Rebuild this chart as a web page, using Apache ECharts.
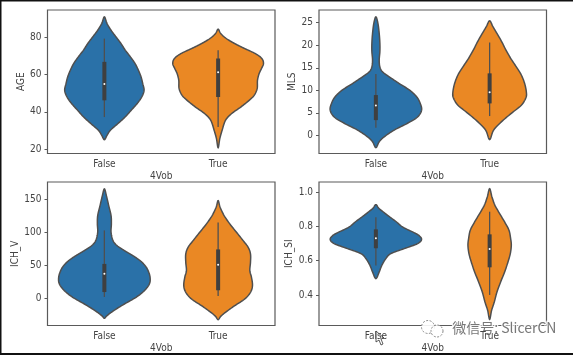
<!DOCTYPE html>
<html>
<head>
<meta charset="utf-8">
<style>
html, body { margin: 0; padding: 0; background: #fff; }
#main { width: 573px; height: 355px; filter: blur(0.5px); }
</style>
<script src="https://cdn.jsdelivr.net/npm/echarts@6/dist/echarts.min.js"></script>
</head>
<body>
<div id="main"></div>
<script>
var categories = ['False', 'True'];

// outline of each violin: value on the y axis, relative density at that value
var ageFalseValues = [91.1, 87.5, 83.9, 80.3, 76.7, 73.1, 69.6, 66, 62.4, 58.8, 55.2, 51.6, 48, 44.4, 40.8, 37.2, 33.6, 30.1, 27.4, 25];
var ageFalseDensity = [0, 8, 20, 35, 50, 63, 78, 92, 102, 110, 115, 119, 112, 98, 80, 62, 40, 18, 8, 0];
var ageTrueValues = [84.5, 82.1, 79.4, 76.7, 74, 71.3, 68.7, 66, 63.3, 60.6, 57, 52.5, 48.9, 46.2, 42.6, 39, 35.4, 30.1, 25.6, 20.7];
var ageTrueDensity = [0, 8, 25, 50, 80, 112, 131, 136, 130, 123, 118, 117, 108, 93, 68, 40, 22, 12, 5, 0];

var mlsFalseValues = [26.3, 24.9, 22.6, 20.4, 18.6, 16.7, 15.2, 14.1, 13, 11.5, 10.1, 8.6, 7.1, 5.6, 4.1, 2.7, 1.2, -0.3, -1.4, -2.7];
var mlsFalseDensity = [0, 6, 10, 12, 12, 10, 12, 20, 40, 70, 100, 122, 133, 137, 125, 95, 55, 25, 10, 0];
var mlsTrueValues = [25.4, 24.1, 22.6, 20.8, 18.9, 17.1, 15.2, 13.4, 11.5, 9.7, 8.4, 6.7, 4.9, 3, 1.2, -0.9];
var mlsTrueDensity = [0, 10, 22, 36, 49, 63, 80, 95, 105, 110, 109, 95, 65, 35, 12, 0];

var ichVFalseValues = [166.2, 156.1, 140.8, 125.6, 112.9, 100.2, 87.4, 79.8, 72.2, 64.6, 56.9, 49.3, 41.7, 31.5, 21.4, 11.2, 1, -9.2, -19.3, -26.9, -31];
var ichVFalseDensity = [0, 6, 13, 20, 21, 20, 26, 38, 60, 85, 107, 122, 131, 137, 135, 120, 95, 60, 28, 8, 0];
var ichVTrueValues = [148.4, 138.3, 125.6, 112.9, 100.2, 87.4, 77.3, 67.1, 54.4, 41.7, 31.5, 18.8, 8.6, -1.5, -11.7, -21.9, -28, -33];
var ichVTrueDensity = [0, 6, 18, 35, 55, 75, 90, 97, 97, 95, 100, 103, 97, 80, 50, 22, 8, 0];

var ichSiFalseValues = [0.926, 0.903, 0.864, 0.825, 0.796, 0.767, 0.748, 0.724, 0.699, 0.67, 0.641, 0.612, 0.573, 0.534, 0.495];
var ichSiFalseDensity = [0, 10, 35, 62, 80, 110, 128, 137, 125, 85, 45, 30, 18, 10, 0];
var ichSiTrueValues = [1.019, 0.971, 0.922, 0.874, 0.825, 0.777, 0.728, 0.689, 0.641, 0.592, 0.534, 0.476, 0.417, 0.359, 0.311, 0.258];
var ichSiTrueDensity = [0, 7, 16, 30, 45, 58, 63, 65, 62, 55, 45, 33, 22, 14, 6, 0];

// whisker low, q1, median, q3, whisker high
var ageFalseBox = [37.2, 46.2, 55, 66.9, 79.4];
var ageTrueBox = [31.9, 48, 61.3, 68.7, 73.1];
var mlsFalseBox = [1.7, 3.4, 6.66, 8.95, 13.6];
var mlsTrueBox = [4.3, 7.1, 9.6, 13.76, 20.6];
var ichVFalseBox = [1.5, 9, 37, 51.9, 103];
var ichVTrueBox = [3, 11.7, 50.8, 74, 115];
var ichSiFalseBox = [0.571, 0.672, 0.73, 0.782, 0.852];
var ichSiTrueBox = [0.4, 0.561, 0.668, 0.753, 0.885];

var ageTicks = [20, 40, 60, 80];
var mlsTicks = [0, 5, 10, 15, 20, 25];
var ichVTicks = [0, 50, 100, 150];
var ichSiTicks = [0.4, 0.6, 0.8, 1.0];

var colors = ['#2a71a8', '#ea8824'];
var lineColor = '#4f4f4f';
var textColor = '#444';
var fontStack = '"DejaVu Sans Condensed", "Liberation Sans", sans-serif';
var densityToBand = 1 / 341; // density 341 would be a full category band either side

var panels = [
    { name: 'AGE', nameGap: 21.5, left: 47.5, top: 10, ticks: ageTicks, min: 17.6, max: 94.8, digits: 0,
      violins: [[ageFalseValues, ageFalseDensity, ageFalseBox], [ageTrueValues, ageTrueDensity, ageTrueBox]] },
    { name: 'MLS', nameGap: 21, left: 319, top: 10, ticks: mlsTicks, min: -4, max: 27.8, digits: 0,
      violins: [[mlsFalseValues, mlsFalseDensity, mlsFalseBox], [mlsTrueValues, mlsTrueDensity, mlsTrueBox]] },
    { name: 'ICH_V', nameGap: 26.5, left: 47.5, top: 182, ticks: ichVTicks, min: -42, max: 176.8, digits: 0,
      violins: [[ichVFalseValues, ichVFalseDensity, ichVFalseBox], [ichVTrueValues, ichVTrueDensity, ichVTrueBox]] },
    { name: 'ICH_SI', nameGap: 24, left: 319, top: 182, ticks: ichSiTicks, min: 0.222, max: 1.058, digits: 1,
      violins: [[ichSiFalseValues, ichSiFalseDensity, ichSiFalseBox], [ichSiTrueValues, ichSiTrueDensity, ichSiTrueBox]] }
];

// closed catmull-rom through the outline so the curve has no corners
function smoothOutline(pts) {
    var out = [], n = pts.length;
    for (var i = 0; i < n; i++) {
        var p0 = pts[(i - 1 + n) % n], p1 = pts[i], p2 = pts[(i + 1) % n], p3 = pts[(i + 2) % n];
        for (var k = 0; k < 8; k++) {
            var t = k / 8, t2 = t * t, t3 = t2 * t;
            out.push([
                0.5 * (2 * p1[0] + (p2[0] - p0[0]) * t + (2 * p0[0] - 5 * p1[0] + 4 * p2[0] - p3[0]) * t2 + (3 * p1[0] - p0[0] - 3 * p2[0] + p3[0]) * t3),
                0.5 * (2 * p1[1] + (p2[1] - p0[1]) * t + (2 * p0[1] - 5 * p1[1] + 4 * p2[1] - p3[1]) * t2 + (3 * p1[1] - p0[1] - 3 * p2[1] + p3[1]) * t3)
            ]);
        }
    }
    return out;
}

function violinRender(violin, color) {
    return function (params, api) {
        var cat = api.value(0);
        var band = api.size([1, 0])[0];
        var cx = api.coord([cat, 0])[0];
        var values = violin[0], density = violin[1], box = violin[2];
        var pts = [], i;
        for (i = 0; i < values.length; i++) {
            pts.push([cx + density[i] * densityToBand * band, api.coord([cat, values[i]])[1]]);
        }
        for (i = values.length - 2; i > 0; i--) {
            pts.push([cx - density[i] * densityToBand * band, api.coord([cat, values[i]])[1]]);
        }
        var y = function (v) { return api.coord([cat, v])[1]; };
        return {
            type: 'group',
            children: [
                { type: 'polygon', shape: { points: smoothOutline(pts) },
                  style: { fill: color, stroke: lineColor, lineWidth: 1.5 } },
                { type: 'line', shape: { x1: cx, y1: y(box[0]), x2: cx, y2: y(box[4]) },
                  style: { stroke: lineColor, lineWidth: 1.3 } },
                { type: 'line', shape: { x1: cx, y1: y(box[1]), x2: cx, y2: y(box[3]) },
                  style: { stroke: '#3f3f3f', lineWidth: 4 } },
                { type: 'circle', shape: { cx: cx, cy: y(box[2]), r: 1 }, style: { fill: '#fff' } }
            ]
        };
    };
}

var grids = [], xAxes = [], yAxes = [], series = [];
panels.forEach(function (p, idx) {
    grids.push({ left: p.left, top: p.top, width: 227.5, height: 143.5, show: true,
        borderColor: '#5a5a5a', borderWidth: 1.2, backgroundColor: '#fff' });
    xAxes.push({ type: 'category', gridIndex: idx, data: categories, name: '4Vob',
        nameLocation: 'middle', nameGap: 18, nameTextStyle: { color: textColor, fontSize: 10, fontFamily: fontStack },
        axisLine: { show: false }, axisTick: { alignWithLabel: true, length: 3, lineStyle: { color: '#5a5a5a' } },
        axisLabel: { color: textColor, fontSize: 10, fontFamily: fontStack, margin: 6 } });
    yAxes.push({ type: 'value', gridIndex: idx, min: p.min, max: p.max, name: p.name,
        nameLocation: 'middle', nameGap: p.nameGap,
        nameTextStyle: { color: textColor, fontSize: 10, fontFamily: fontStack },
        splitLine: { show: false }, axisLine: { show: false },
        axisTick: { show: true, length: 3, customValues: p.ticks, lineStyle: { color: '#5a5a5a' } },
        axisLabel: { color: textColor, fontSize: 10, fontFamily: fontStack, margin: 6, customValues: p.ticks,
            formatter: function (v) { return v.toFixed(p.digits); } } });
    p.violins.forEach(function (violin, c) {
        series.push({ type: 'custom', xAxisIndex: idx, yAxisIndex: idx, clip: false, silent: true,
            data: [[c].concat(violin[2])], encode: { x: 0, y: [1, 2, 3, 4, 5] },
            renderItem: violinRender(violin, colors[c]) });
    });
});

var chart = echarts.init(document.getElementById('main'));
chart.setOption({
    animation: false,
    backgroundColor: '#fff',
    tooltip: { show: false },
    grid: grids,
    xAxis: xAxes,
    yAxis: yAxes,
    series: series,
    graphic: [
        // black frame of the screenshot
        { type: 'rect', shape: { x: 0, y: 0, width: 573, height: 1.5 }, style: { fill: '#111' } },
        { type: 'rect', shape: { x: 0, y: 0, width: 1.5, height: 355 }, style: { fill: '#111' } },
        { type: 'rect', shape: { x: 0, y: 353, width: 573, height: 2 }, style: { fill: '#111' } },
        // watermark
        { type: 'circle', shape: { cx: 428, cy: 327, r: 6.5 }, style: { fill: 'rgba(255,255,255,0.9)', stroke: '#888', lineWidth: 1, lineDash: [2, 1.5] } },
        { type: 'circle', shape: { cx: 437, cy: 331, r: 6 }, style: { fill: 'rgba(255,255,255,0.9)', stroke: '#888', lineWidth: 1, lineDash: [2, 1.5] } },
        { type: 'text', left: 451, top: 319, style: { text: '微信号: SlicerCN', fill: '#777',
            stroke: 'rgba(255,255,255,0.9)', lineWidth: 2.5, font: '14px "Noto Sans CJK SC"' } },
        // mouse pointer left in the screenshot
        { type: 'polygon', shape: { points: [[376, 331], [376, 342], [379, 340], [381, 345], [383, 344], [381, 339], [384, 338]] },
          style: { fill: '#fff', stroke: '#333', lineWidth: 0.8 } }
    ]
});
</script>
</body>
</html>
